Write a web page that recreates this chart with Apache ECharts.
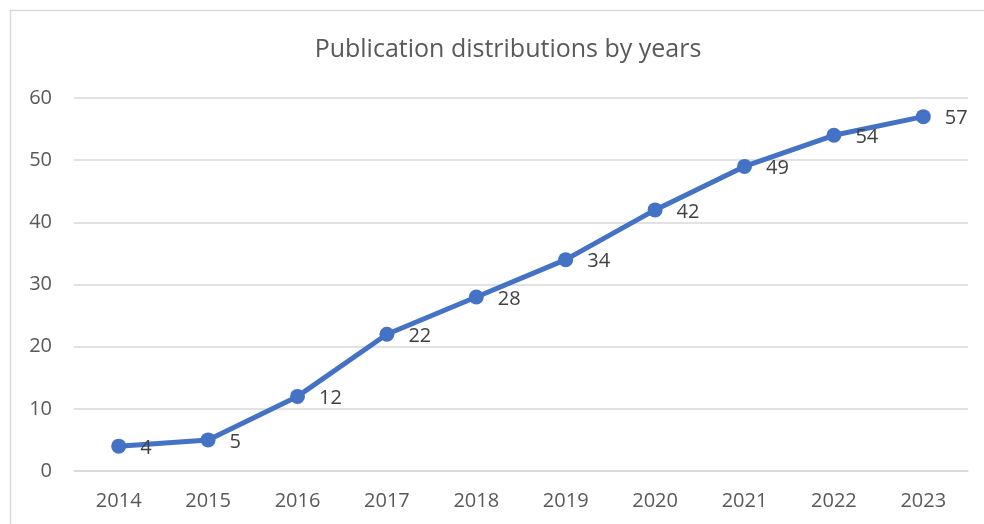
<!DOCTYPE html>
<html>
<head>
<meta charset="utf-8">
<script src="https://cdn.jsdelivr.net/npm/echarts@6/dist/echarts.min.js"></script>
<style>
    html, body { margin: 0; padding: 0; background: #fff; }
    #chart { width: 984px; height: 524px; }
</style>
</head>
<body>
<div id="chart"></div>
<script>
var years = ['2014', '2015', '2016', '2017', '2018', '2019', '2020', '2021', '2022', '2023']
var publications = [4, 5, 12, 22, 28, 34, 42, 49, 54, 57]

var chart = echarts.init(document.getElementById('chart'))
chart.setOption({
    animation: false,
    textStyle: { fontFamily: 'Open Sans' },
    graphic: [{
        type: 'rect',
        shape: { x: 10.5, y: 10.5, width: 1000, height: 600 },
        style: { fill: 'none', stroke: '#d9d9d9', lineWidth: 1.5 },
        silent: true
    }],
    title: {
        text: 'Publication distributions by years',
        left: 503,
        top: 32,
        textAlign: 'center',
        textStyle: { color: '#595959', fontSize: 25, fontWeight: 'normal', fontFamily: 'Open Sans' }
    },
    grid: { left: 74, right: 16, top: 98, bottom: 53, containLabel: false },
    xAxis: {
        type: 'category',
        data: years,
        axisLine: { lineStyle: { color: '#d9d9d9', width: 1.5 } },
        axisTick: { show: false },
        axisLabel: { color: '#595959', fontSize: 20, margin: 20 }
    },
    yAxis: {
        type: 'value',
        min: 0,
        max: 60,
        interval: 10,
        axisLine: { show: false },
        axisTick: { show: false },
        axisLabel: { color: '#595959', fontSize: 20, margin: 22 },
        splitLine: { lineStyle: { color: '#d9d9d9', width: 1.5 } }
    },
    series: [{
        type: 'line',
        data: publications,
        symbol: 'circle',
        symbolSize: 15,
        lineStyle: { color: '#4472c4', width: 5 },
        itemStyle: { color: '#4472c4' },
        label: {
            show: true,
            position: 'right',
            distance: 14,
            offset: [0, 2],
            color: '#404040',
            fontSize: 20
        }
    }]
})
</script>
</body>
</html>
